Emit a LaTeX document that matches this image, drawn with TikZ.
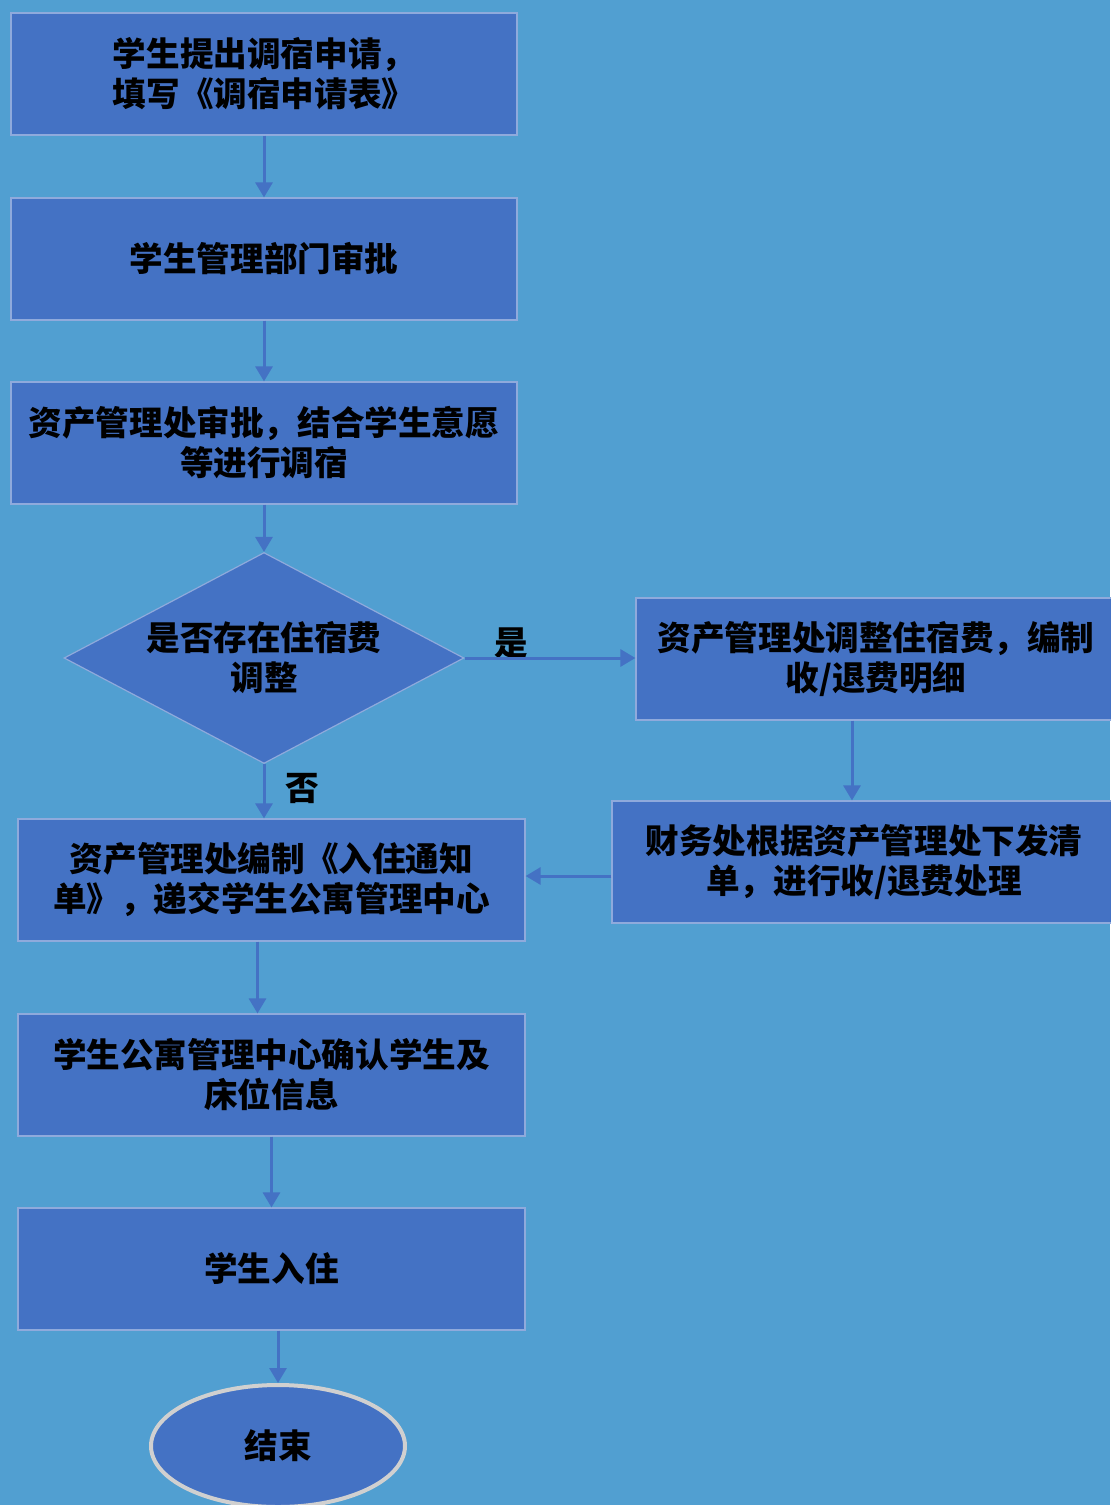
\documentclass[tikz,border=0pt]{standalone}
\usepackage{xcolor}
\usepackage{fontspec}
\newfontfamily\cjk{Noto Sans CJK SC}
\usepackage{tikz}
\usetikzlibrary{shapes.geometric, arrows.meta, positioning}

\definecolor{pagebg}{RGB}{81,159,209}
\definecolor{boxblue}{RGB}{68,114,196}
\definecolor{boxedge}{RGB}{143,170,220}
\definecolor{ringgray}{RGB}{208,208,208}

\tikzset{
  flowtext/.style={font=\fontsize{16.8pt}{20pt}\selectfont\cjk\bfseries, text=black},
  stepbox/.style={flowtext, rectangle, draw=boxedge, line width=0.6pt, fill=boxblue,
    minimum width=253pt, minimum height=61pt, align=center, inner sep=2pt},
  checkbox/.style={flowtext, diamond, draw=boxedge, line width=0.6pt, fill=boxblue,
    aspect=1.9, minimum width=200pt, minimum height=105.5pt, align=center, inner sep=0pt},
  endbox/.style={flowtext, ellipse, draw=ringgray, line width=2pt, fill=boxblue,
    minimum width=127pt, minimum height=61pt},
  flowline/.style={draw=boxblue, line width=1.5pt, -{Triangle[width=8.5pt,length=7.5pt]}}
}

\begin{document}
\begin{tikzpicture}[x=0.5pt, y=-0.5pt]
  \fill[pagebg] (0,0) rectangle (1110,1505);
  \useasboundingbox (0,0) rectangle (1110,1505);

  % left column
  \node[stepbox] (apply) at (264,74) {学生提出调宿申请，\\填写《调宿申请表》};
  \node[stepbox] (dept) at (264,259) {学生管理部门审批};
  \node[stepbox] (asset) at (264,443) {资产管理处审批，结合学生意愿\\等进行调宿};
  \node[checkbox] (fee) at (264,658) {是否存在住宿费\\调整};
  \node[stepbox, minimum width=253.5pt] (notice) at (271.5,880) {资产管理处编制《入住通知\\单》，递交学生公寓管理中心};
  \node[stepbox, minimum width=253.5pt] (confirm) at (271.5,1075) {学生公寓管理中心确认学生及\\床位信息};
  \node[stepbox, minimum width=253.5pt] (checkin) at (271.5,1269) {学生入住};
  \node[endbox] (finish) at (278,1446) {结束};

  % right column
  \node[stepbox, minimum width=240pt] (adjust) at (876,659) {资产管理处调整住宿费，编制\\收/退费明细};
  \node[stepbox, minimum width=252pt] (finance) at (864,862) {财务处根据资产管理处下发清\\单，进行收/退费处理};

  % labels
  \node[flowtext] (yes) at (511,643) {是};
  \node[flowtext] (no) at (302,788) {否};

  % connectors
  \draw[flowline] (apply) -- (dept);
  \draw[flowline] (dept) -- (asset);
  \draw[flowline] (asset) -- (fee);
  \draw[flowline] (fee.east) -- (fee.east -| adjust.west);
  \draw[flowline] (fee.south) -- (fee.south |- notice.north);
  \draw[flowline] ([xshift=-12pt]adjust.south) -- ([xshift=-12pt]adjust.south |- finance.north);
  \draw[flowline] ([yshift=2pt]finance.west |- notice.east) -- ([yshift=2pt]notice.east);
  \draw[flowline] ([xshift=-7pt]notice.south) -- ([xshift=-7pt]confirm.north);
  \draw[flowline] (confirm) -- (checkin);
  \draw[flowline] (checkin.south -| finish.north) -- (finish.north);
\end{tikzpicture}
\end{document}
